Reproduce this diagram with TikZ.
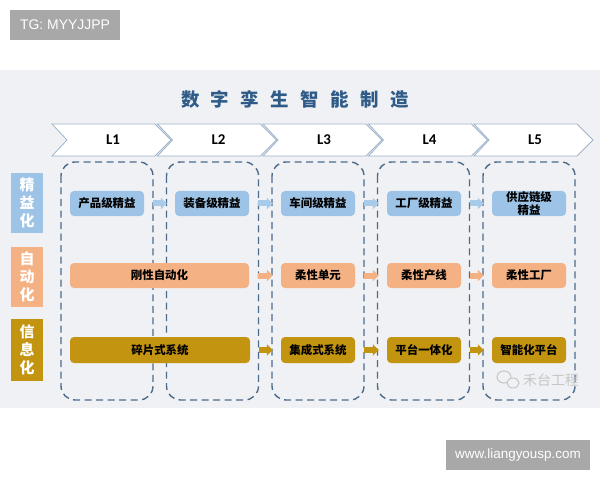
\documentclass[tikz,border=0pt]{standalone}
\usepackage{fontspec}
\setmainfont{Liberation Sans}
\newfontfamily\cjk{Noto Sans CJK SC}
\newfontfamily\calib{Carlito}
\usetikzlibrary{arrows.meta}
\definecolor{panelbg}{HTML}{EFF1F4}
\definecolor{tggray}{HTML}{A8A8A8}
\definecolor{titleblue}{HTML}{2E5B87}
\definecolor{chevline}{HTML}{9FB4CB}
\definecolor{dashblue}{HTML}{4D6C8C}
\definecolor{lblue}{HTML}{9DC3E6}
\definecolor{lbluearr}{HTML}{A9CBEA}
\definecolor{lorange}{HTML}{F4B183}
\definecolor{lgold}{HTML}{C29410}
\definecolor{wmgray}{HTML}{C6C6C6}
\begin{document}
\begin{tikzpicture}[x=1bp,y=-1bp,
  tagbox/.style={fill=tggray,text=white,inner sep=0pt,font=\fontsize{14}{16}\selectfont},
  chev/.style={draw=chevline,line width=0.8bp,fill=white},
  levlab/.style={font=\calib\bfseries\fontsize{15}{17}\selectfont,text=black},
  colbox/.style={draw=dashblue,line width=1.4bp,dash pattern=on 7bp off 4.5bp,rounded corners=14bp},
  rowlab/.style={text=white,inner sep=0pt,minimum width=32bp,align=center,
    font=\cjk\bfseries\fontsize{15}{18}\selectfont},
  stagebox/.style={rounded corners=4bp,inner sep=0pt,minimum height=25bp,minimum width=74bp,
    align=center,text=black,font=\cjk\bfseries\fontsize{11.5}{13}\selectfont},
  bluebox/.style={stagebox,fill=lblue},
  orangebox/.style={stagebox,fill=lorange},
  goldbox/.style={stagebox,fill=lgold,minimum height=26bp},
  blockarr/.style={line width=6bp,-{Triangle[width=11bp,length=6bp]},shorten <=9bp,shorten >=8bp}
]
\useasboundingbox (0,0) rectangle (600,480);
\fill[white] (0,0) rectangle (600,480);
% top tag
\node[tagbox,minimum width=110bp,minimum height=30bp] (tg) at (65,25) {TG: MYYJJPP};
% panel
\fill[panelbg] (0,70) rectangle (600,408);
% title
\node[font=\cjk\bfseries\fontsize{18.5}{20}\selectfont,text=titleblue] (title) at (295,99)
  {数\hskip11.5bp 字\hskip11.5bp 孪\hskip11.5bp 生\hskip11.5bp 智\hskip11.5bp 能\hskip11.5bp 制\hskip11.5bp 造};
% chevrons
\foreach \i/\t in {0/L1,1/L2,2/L3,3/L4,4/L5}{
  \pgfmathsetmacro\xo{52+105.5*\i}
  \draw[chev] (\xo,124) -- (\xo+103,124) -- (\xo+119,140) -- (\xo+103,156) -- (\xo,156) -- (\xo+15,140) -- cycle;
  \node[levlab] (\t) at (\xo+61,140) {\t};
}
% dashed columns
\foreach \xl in {61,166.5,272,377.5,483}{
  \draw[colbox] (\xl,162) rectangle (\xl+92,400);
}
% row labels
\node[rowlab,fill=lblue,minimum height=60bp] (r1) at (27,203) {精\\益\\化};
\node[rowlab,fill=lorange,minimum height=60bp] (r2) at (27,277) {自\\动\\化};
\node[rowlab,fill=lgold,minimum height=62bp] (r3) at (27,350) {信\\息\\化};
% row 1
\node[bluebox] (a1) at (107,203.5) {产品级精益};
\node[bluebox] (a2) at (212,203.5) {装备级精益};
\node[bluebox] (a3) at (318,203.5) {车间级精益};
\node[bluebox] (a4) at (424,203.5) {工厂级精益};
\node[bluebox,font=\cjk\bfseries\fontsize{11.5}{13}\selectfont] (a5) at (529,203.5) {供应链级\\精益};
% row 2
\node[orangebox,minimum width=179bp] (b1) at (159.5,275.5) {刚性自动化};
\node[orangebox] (b3) at (318,275.5) {柔性单元};
\node[orangebox] (b4) at (424,275.5) {柔性产线};
\node[orangebox] (b5) at (529,275.5) {柔性工厂};
% row 3
\node[goldbox,minimum width=180bp] (c1) at (160,350) {碎片式系统};
\node[goldbox] (c3) at (318,350) {集成式系统};
\node[goldbox] (c4) at (424,350) {平台一体化};
\node[goldbox] (c5) at (529,350) {智能化平台};
% arrows
\draw[blockarr,lbluearr] (a1) -- (a2);
\draw[blockarr,lbluearr] (a2) -- (a3);
\draw[blockarr,lbluearr] (a3) -- (a4);
\draw[blockarr,lbluearr] (a4) -- (a5);
\draw[blockarr,lorange] (b1) -- (b3);
\draw[blockarr,lorange] (b3) -- (b4);
\draw[blockarr,lorange] (b4) -- (b5);
\draw[blockarr,lgold] (c1) -- (c3);
\draw[blockarr,lgold] (c3) -- (c4);
\draw[blockarr,lgold] (c4) -- (c5);
% watermark
\draw[wmgray,line width=1bp] (504,377) ellipse (7bp and 6bp);
\draw[wmgray,line width=1bp,fill=panelbg] (513,383) ellipse (6bp and 5bp);
\node[text=wmgray,font=\cjk\fontsize{14}{16}\selectfont] (wm) at (551,380) {禾台工程};
% bottom tag
\node[tagbox,minimum width=144bp,minimum height=30bp,font=\fontsize{13.5}{15}\selectfont] (web) at (518,455) {www.liangyousp.com};
\end{tikzpicture}
\end{document}
